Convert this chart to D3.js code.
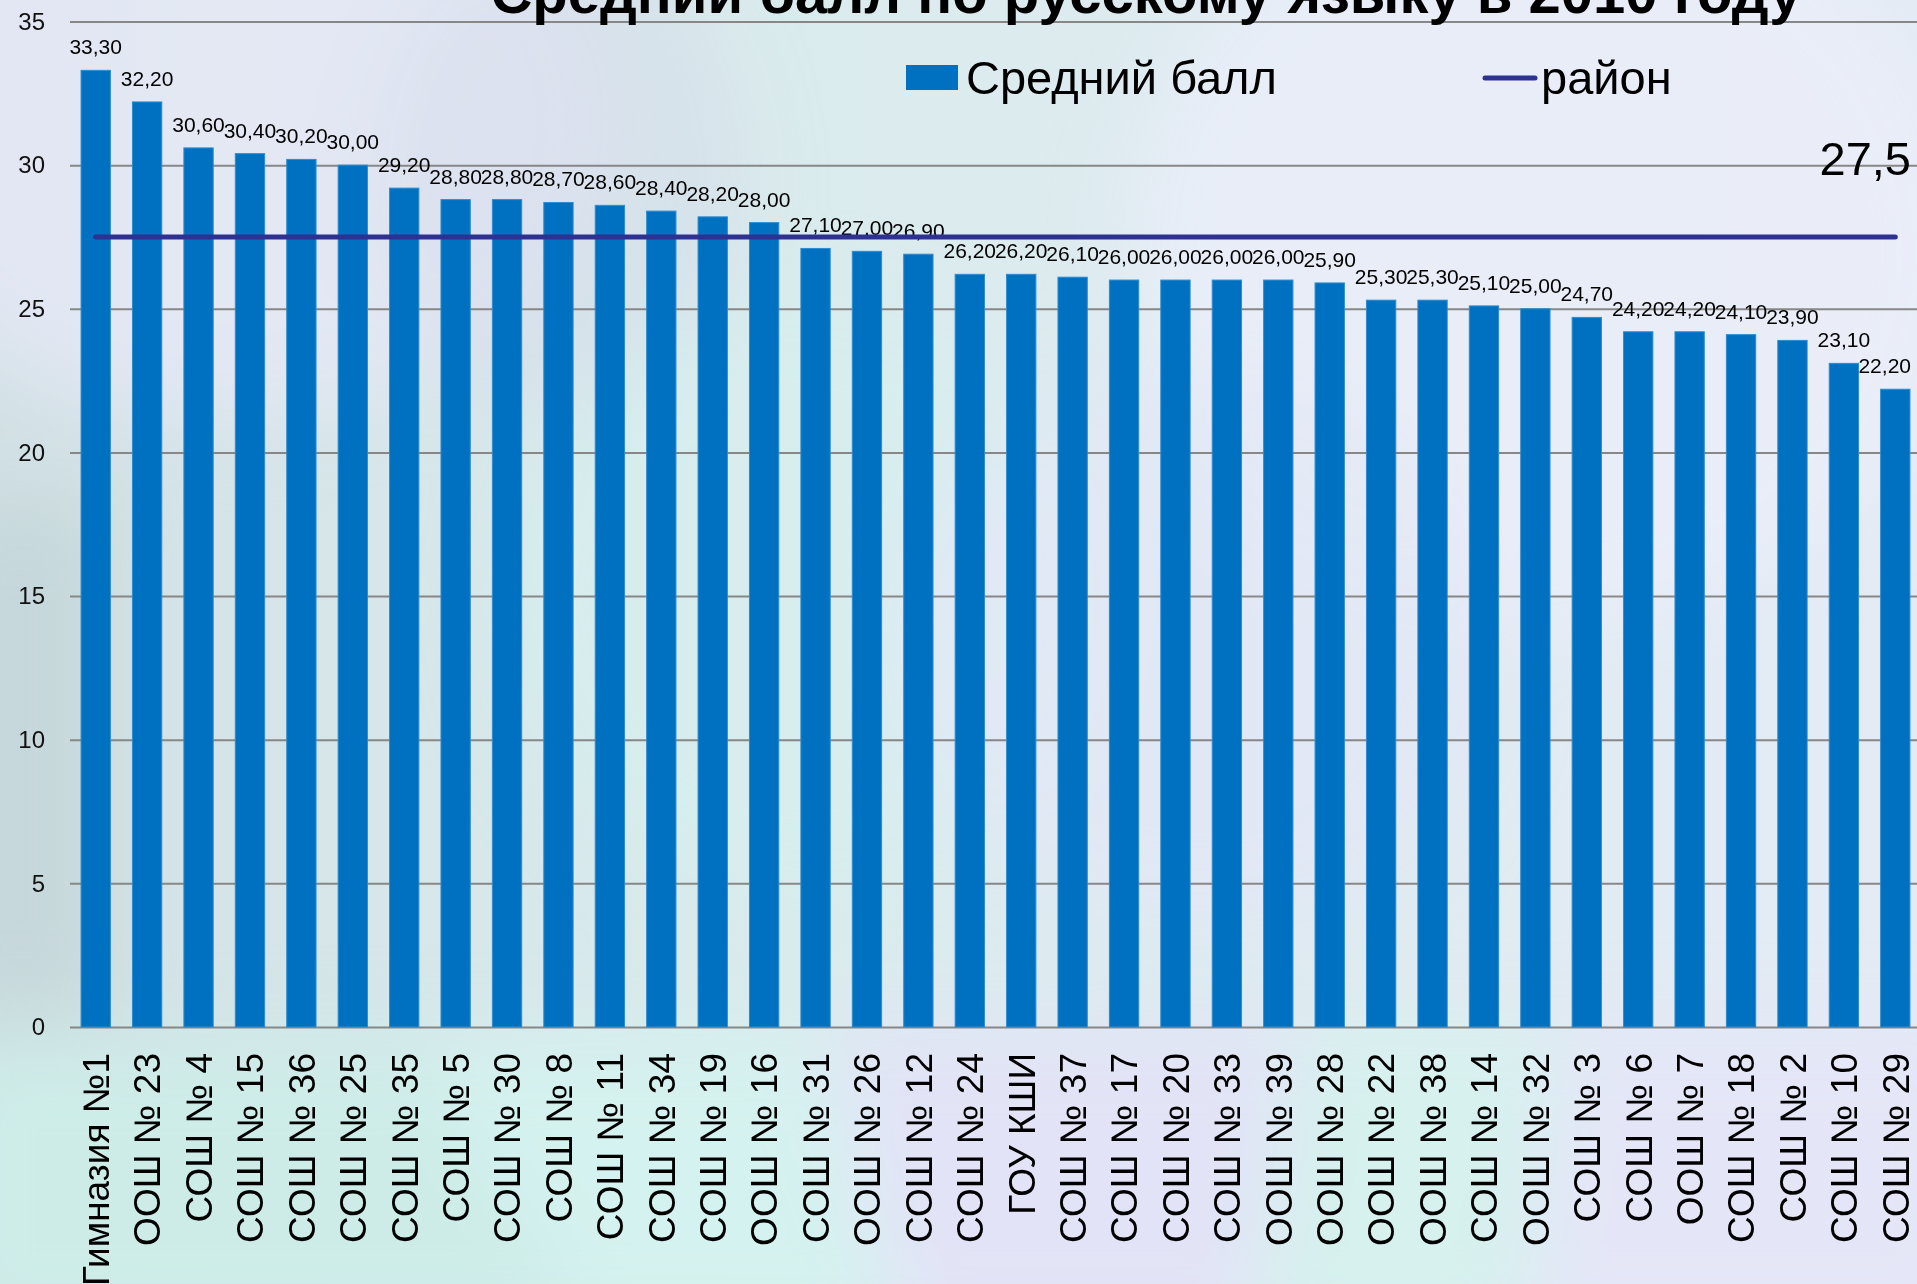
<!DOCTYPE html>
<html>
<head>
<meta charset="utf-8">
<script src="https://cdn.jsdelivr.net/npm/d3@7"></script>
<style>
  html, body { margin: 0; padding: 0; overflow: hidden; }
  svg { display: block; font-family: "Liberation Sans", Arial, sans-serif; }
</style>
</head>
<body>
<svg id="chart" width="1917" height="1284"></svg>
<script>
// data
const schools = [
  'Гимназия №1', 'ООШ № 23', 'СОШ № 4', 'СОШ № 15', 'СОШ № 36', 'СОШ № 25',
  'СОШ № 35', 'СОШ № 5', 'СОШ № 30', 'СОШ № 8', 'СОШ № 11', 'СОШ № 34',
  'СОШ № 19', 'ООШ № 16', 'СОШ № 31', 'ООШ № 26', 'СОШ № 12', 'СОШ № 24',
  'ГОУ КШИ', 'СОШ № 37', 'СОШ № 17', 'СОШ № 20', 'СОШ № 33', 'ООШ № 39',
  'ООШ № 28', 'ООШ № 22', 'ООШ № 38', 'СОШ № 14', 'ООШ № 32', 'СОШ № 3',
  'СОШ № 6', 'ООШ № 7', 'СОШ № 18', 'СОШ № 2', 'СОШ № 10', 'СОШ № 29'
];
const avgScores = [
  33.3, 32.2, 30.6, 30.4, 30.2, 30.0,
  29.2, 28.8, 28.8, 28.7, 28.6, 28.4,
  28.2, 28.0, 27.1, 27.0, 26.9, 26.2,
  26.2, 26.1, 26.0, 26.0, 26.0, 26.0,
  25.9, 25.3, 25.3, 25.1, 25.0, 24.7,
  24.2, 24.2, 24.1, 23.9, 23.1, 22.2
];
const districtScore = 27.5;
const yTicks = [0, 5, 10, 15, 20, 25, 30, 35];
const titleText = 'Средний балл по русскому языку в 2010 году';
const seriesNames = ['Средний балл', 'район'];

const W = 1917, H = 1284;
const plotLeft = 70, plotRight = 1921, plotTop = 21.5, plotBottom = 1027;
const labelMaxX = 1911;
const barColor = '#0070c0';
const lineColor = '#2e3192';

const svg = d3.select('#chart');
const defs = svg.append('defs');

// ---- background (soft slide backdrop) ----
const bgGrad = defs.append('linearGradient').attr('id', 'bg')
  .attr('x1', 0).attr('y1', 0).attr('x2', 1).attr('y2', 0);
bgGrad.append('stop').attr('offset', '0%').attr('stop-color', '#d2e1e5');
bgGrad.append('stop').attr('offset', '40%').attr('stop-color', '#daebed');
bgGrad.append('stop').attr('offset', '100%').attr('stop-color', '#e4ebf5');
defs.append('filter').attr('id', 'soft')
  .attr('x', '-20%').attr('y', '-20%').attr('width', '140%').attr('height', '140%')
  .append('feGaussianBlur').attr('stdDeviation', 40);

svg.append('rect').attr('width', W).attr('height', H).attr('fill', 'url(#bg)');
const bg = svg.append('g').attr('filter', 'url(#soft)');
bg.append('ellipse').attr('cx', 230).attr('cy', 120).attr('rx', 380).attr('ry', 300)
  .attr('fill', '#e6e8f6').attr('opacity', 0.8);
bg.append('ellipse').attr('cx', 1550).attr('cy', 250).attr('rx', 420).attr('ry', 380)
  .attr('fill', '#ebedf9').attr('opacity', 0.8);
bg.append('ellipse').attr('cx', 560).attr('cy', 180).attr('rx', 180).attr('ry', 240)
  .attr('fill', '#d3d9e8').attr('opacity', 0.45);
bg.append('ellipse').attr('cx', 800).attr('cy', 600).attr('rx', 300).attr('ry', 300)
  .attr('fill', '#d6eeee').attr('opacity', 0.7);
bg.append('ellipse').attr('cx', 1200).attr('cy', 650).attr('rx', 300).attr('ry', 280)
  .attr('fill', '#e2e7f6').attr('opacity', 0.7);
bg.append('rect').attr('x', -60).attr('y', 500).attr('width', 160).attr('height', 520)
  .attr('fill', '#c3d4d8').attr('opacity', 0.8);
bg.append('path').attr('d', 'M-60,1040 L420,1040 L760,1340 L-60,1340 Z')
  .attr('fill', '#cdece8');
bg.append('path').attr('d', 'M420,1040 L820,1040 L900,1340 L600,1340 Z')
  .attr('fill', '#d4f2ef');
bg.append('path').attr('d', 'M820,1030 L1300,1030 L1250,1340 L900,1340 Z')
  .attr('fill', '#e2e3f6');
bg.append('path').attr('d', 'M1300,1030 L1560,1030 L1520,1340 L1250,1340 Z')
  .attr('fill', '#d6f1ee');
bg.append('path').attr('d', 'M1560,1030 L1980,1030 L1980,1340 L1520,1340 Z')
  .attr('fill', '#e4e6f7');

// ---- scales ----
const x = d3.scaleBand()
  .domain(schools)
  .range([plotLeft, plotRight])
  .paddingInner(0.43)
  .paddingOuter(0.215);
const y = d3.scaleLinear().domain([0, 35]).range([plotBottom, plotTop]);

// ---- y axis with gridlines ----
const yAxis = svg.append('g')
  .attr('transform', `translate(${plotLeft},0)`)
  .call(d3.axisLeft(y).tickValues(yTicks).tickSize(-(W - plotLeft)).tickPadding(25)
    .tickFormat(d3.format('d')));
yAxis.select('.domain').remove();
yAxis.selectAll('.tick line').attr('stroke', '#878787').attr('stroke-width', 2);
yAxis.selectAll('.tick text')
  .attr('font-size', 24).attr('fill', '#111')
  .attr('font-family', '"Liberation Sans", Arial, sans-serif');

// ---- bars ----
svg.append('g').selectAll('rect')
  .data(avgScores)
  .join('rect')
  .attr('x', (d, i) => x(schools[i]))
  .attr('y', d => y(d))
  .attr('width', x.bandwidth())
  .attr('height', d => y(0) - y(d))
  .attr('fill', barColor)
  .attr('stroke', '#2f8ccf')
  .attr('stroke-width', 1);

// ---- bar value labels (kept inside the chart on the right, like Excel) ----
const fmt = d => d3.format('.2f')(d).replace('.', ',');
svg.append('g').selectAll('text')
  .data(avgScores)
  .join('text')
  .attr('y', d => y(d) - 16)
  .attr('text-anchor', 'middle')
  .attr('font-size', 21)
  .attr('fill', '#000')
  .text(fmt)
  .attr('x', function (d, i) {
    const cx = x(schools[i]) + x.bandwidth() / 2;
    const half = this.getComputedTextLength() / 2;
    return Math.min(cx, labelMaxX - half);
  });

// ---- district line ----
const line = d3.line()
  .x(d => x(d) + x.bandwidth() / 2)
  .y(() => y(districtScore));
svg.append('path')
  .datum(schools)
  .attr('d', line)
  .attr('fill', 'none')
  .attr('stroke', lineColor)
  .attr('stroke-width', 5)
  .attr('stroke-linecap', 'round');
svg.append('text')
  .attr('x', labelMaxX).attr('y', 175)
  .attr('text-anchor', 'end')
  .attr('font-size', 47)
  .text(d3.format('.1f')(districtScore).replace('.', ','));

// ---- x axis labels ----
const xAxis = svg.append('g')
  .attr('transform', `translate(0,${plotBottom})`)
  .call(d3.axisBottom(x).tickSize(0));
xAxis.select('.domain').remove();
xAxis.selectAll('.tick text')
  .attr('font-size', 37)
  .attr('fill', '#000')
  .attr('font-family', '"Liberation Sans", Arial, sans-serif')
  .attr('transform', 'rotate(-90)')
  .attr('text-anchor', 'end')
  .attr('x', -26)
  .attr('y', 0)
  .attr('dy', '0.36em');

// ---- title (cut at the top edge, as in the slide) ----
svg.append('text')
  .attr('x', 1146).attr('y', 13)
  .attr('text-anchor', 'middle')
  .attr('font-size', 58)
  .attr('font-weight', 'bold')
  .text(titleText);

// ---- legend ----
const legend = svg.append('g');
legend.append('rect')
  .attr('x', 906).attr('y', 65).attr('width', 52).attr('height', 25)
  .attr('fill', barColor);
legend.append('text')
  .attr('x', 966).attr('y', 94)
  .attr('font-size', 47)
  .text(seriesNames[0]);
legend.append('line')
  .attr('x1', 1485).attr('x2', 1535).attr('y1', 78).attr('y2', 78)
  .attr('stroke', lineColor).attr('stroke-width', 5).attr('stroke-linecap', 'round');
legend.append('text')
  .attr('x', 1541).attr('y', 94)
  .attr('font-size', 47)
  .text(seriesNames[1]);
</script>
</body>
</html>
